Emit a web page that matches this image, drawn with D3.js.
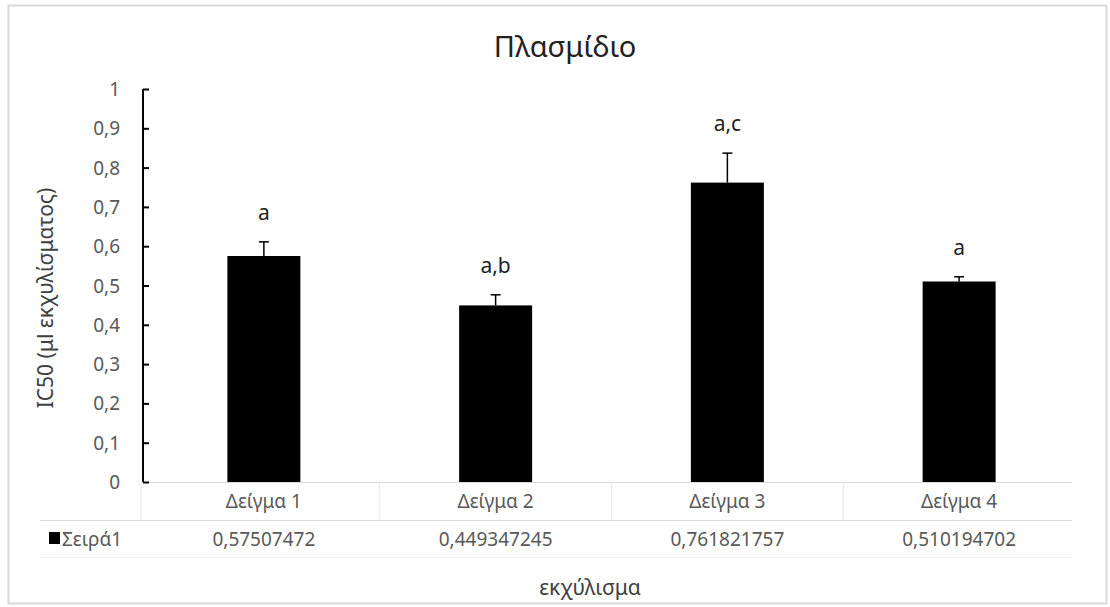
<!DOCTYPE html>
<html>
<head>
<meta charset="utf-8">
<script src="https://cdn.jsdelivr.net/npm/d3@7"></script>
<style>
body{margin:0;background:#fff;}
text{font-family:"Noto Sans","Open Sans",sans-serif;fill:#404040;}
</style>
</head>
<body>
<script>
var w=1110,h=607;
var categories=['Δείγμα 1','Δείγμα 2','Δείγμα 3','Δείγμα 4'];
var values=[0.57507472,0.449347245,0.761821757,0.510194702];
var errors=[0.036,0.027,0.075,0.012];
var letters=['a','a,b','a,c','a'];
var tableLabels=['0,57507472','0,449347245','0,761821757','0,510194702'];
var yTicks=[0,0.1,0.2,0.3,0.4,0.5,0.6,0.7,0.8,0.9,1];
var seriesName='Σειρά1';

var svg=d3.select('body').append('svg').attr('width',w).attr('height',h);

// chart border
svg.append('rect').attr('x',8.5).attr('y',5.5).attr('width',1098).attr('height',598)
  .attr('fill','#fff').attr('stroke','#d9d9d9').attr('stroke-width',2);

var pLeft=143,pRight=1072,pTop=89,pBottom=482;
var x=d3.scaleBand().domain(categories).range([pLeft+5,pRight+3]).padding(0.685).paddingOuter(0.3425);
var y=d3.scaleLinear().domain([0,1]).range([pBottom,pTop]);

// title
svg.append('text').attr('x',565).attr('y',57).attr('text-anchor','middle')
  .style('font-size','29px').style('fill','#222').text('Πλασμίδιο');

// baseline, category dividers, table lines
var grid='#d9d9d9';
svg.append('line').attr('x1',pLeft).attr('x2',pRight).attr('y1',pBottom+0.5).attr('y2',pBottom+0.5).attr('stroke',grid);
var bounds=d3.range(1,categories.length).map(function(i){return x(categories[i])-x.step()*x.paddingInner()/2;});
svg.selectAll('line.div').data(bounds).enter().append('line').attr('class','div')
  .attr('x1',function(d){return d;}).attr('x2',function(d){return d;})
  .attr('y1',pBottom).attr('y2',520).attr('stroke','#e6e6e6');
svg.append('line').attr('x1',pLeft-2).attr('x2',pLeft-2).attr('y1',pBottom).attr('y2',520).attr('stroke','#e6e6e6');
svg.append('line').attr('x1',40).attr('x2',pRight).attr('y1',520.5).attr('y2',520.5).attr('stroke',grid);
svg.append('line').attr('x1',40).attr('x2',pRight).attr('y1',557.5).attr('y2',557.5).attr('stroke','#f0f0f0');

// bars
svg.selectAll('rect.bar').data(values).enter().append('rect').attr('class','bar')
  .attr('x',function(d,i){return x(categories[i]);})
  .attr('y',function(d){return y(d);})
  .attr('width',x.bandwidth())
  .attr('height',function(d){return pBottom-y(d);})
  .attr('fill','#000');

// error bars
var eb=svg.selectAll('g.err').data(values).enter().append('g').attr('class','err');
eb.append('line')
  .attr('x1',function(d,i){return x(categories[i])+x.bandwidth()/2;})
  .attr('x2',function(d,i){return x(categories[i])+x.bandwidth()/2;})
  .attr('y1',function(d){return y(d);})
  .attr('y2',function(d,i){return y(d+errors[i]);})
  .attr('stroke','#000').attr('stroke-width',1.5);
eb.append('line')
  .attr('x1',function(d,i){return x(categories[i])+x.bandwidth()/2-5;})
  .attr('x2',function(d,i){return x(categories[i])+x.bandwidth()/2+5;})
  .attr('y1',function(d,i){return y(d+errors[i]);})
  .attr('y2',function(d,i){return y(d+errors[i]);})
  .attr('stroke','#000').attr('stroke-width',1.5);

// significance letters
svg.selectAll('text.let').data(letters).enter().append('text').attr('class','let')
  .attr('x',function(d,i){return x(categories[i])+x.bandwidth()/2;})
  .attr('y',function(d,i){return y(values[i]+errors[i])-22;})
  .attr('text-anchor','middle').style('font-size','21px').style('fill','#222')
  .text(function(d){return d;});

// y axis
var yAxis=d3.axisRight(y).tickValues(yTicks).tickSize(6).tickFormat('');
var ga=svg.append('g').attr('transform','translate('+pLeft+',0)').call(yAxis);
ga.select('.domain').attr('stroke','#000').attr('stroke-width',2).attr('d','M0,'+pTop+'V'+pBottom);
ga.selectAll('.tick line').attr('stroke','#000').attr('stroke-width',2);
svg.selectAll('text.yt').data(yTicks).enter().append('text').attr('class','yt')
  .attr('x',120).attr('y',function(d){return y(d)+7;}).attr('text-anchor','end')
  .style('font-size','19px').style('fill','#595959')
  .text(function(d){return d3.format('.1~f')(d).replace('.',',');});

// category labels
svg.selectAll('text.cat').data(categories).enter().append('text').attr('class','cat')
  .attr('x',function(d){return x(d)+x.bandwidth()/2;}).attr('y',508)
  .attr('text-anchor','middle').style('font-size','19px').style('fill','#595959')
  .text(function(d){return d;});

// data table row
svg.selectAll('text.tv').data(tableLabels).enter().append('text').attr('class','tv')
  .attr('x',function(d,i){return x(categories[i])+x.bandwidth()/2;}).attr('y',546)
  .attr('text-anchor','middle').style('font-size','19px').style('fill','#595959')
  .text(function(d){return d;});
svg.append('rect').attr('x',49).attr('y',532).attr('width',11).attr('height',12).attr('fill','#000');
svg.append('text').attr('x',62).attr('y',546).style('font-size','19px').style('fill','#595959').text(seriesName);

// axis titles
svg.append('text').attr('transform','translate(53,298) rotate(-90)').attr('text-anchor','middle')
  .style('font-size','21px').style('fill','#404040').text('IC50 (μl εκχυλίσματος)');
svg.append('text').attr('x',590).attr('y',595).attr('text-anchor','middle')
  .style('font-size','21px').style('fill','#404040').text('εκχύλισμα');
</script>
</body>
</html>
